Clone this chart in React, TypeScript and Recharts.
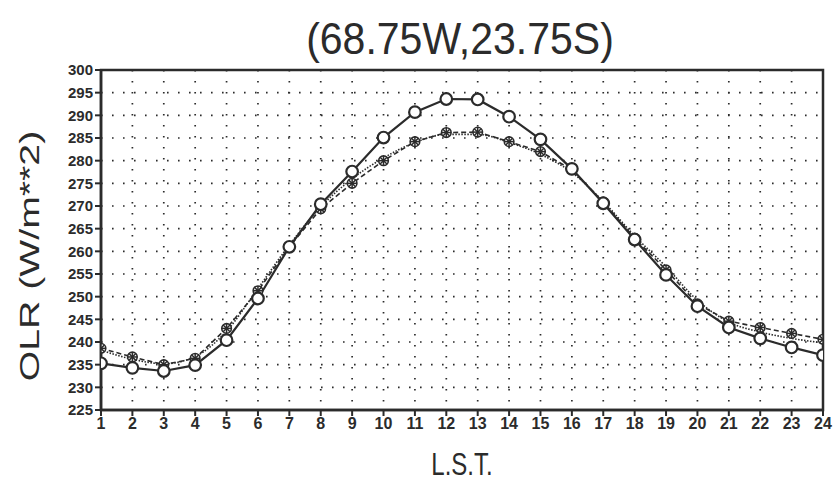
import React from 'react';
import {
  ComposedChart,
  Line,
  XAxis,
  YAxis,
  CartesianGrid,
  ReferenceArea,
} from 'recharts';

// local solar time (hours)
const hours = [1, 2, 3, 4, 5, 6, 7, 8, 9, 10, 11, 12, 13, 14, 15, 16, 17, 18, 19, 20, 21, 22, 23, 24];

// observed OLR (W/m**2)
const observed = [
  235.3, 234.3, 233.6, 234.9, 240.4, 249.6, 261.0, 270.4, 277.6, 285.1, 290.7, 293.6,
  293.5, 289.7, 284.7, 278.2, 270.6, 262.6, 254.8, 247.9, 243.2, 240.8, 238.8, 237.1,
];

// model OLR (W/m**2)
const model = [
  238.6, 236.7, 235.0, 236.4, 243.0, 251.3, 261.0, 269.4, 275.0, 280.0, 284.2, 286.2,
  286.3, 284.2, 282.0, 278.0, 270.9, 262.9, 255.9, 248.4, 244.6, 243.2, 241.9, 240.6,
];

// harmonic fit (W/m**2)
const fitted = [
  238.2, 236.2, 235.2, 236.8, 242.4, 251.8, 261.4, 269.8, 276.0, 280.6, 284.0, 285.8,
  285.8, 284.0, 281.4, 277.4, 271.0, 263.4, 256.6, 249.2, 244.4, 242.2, 240.8, 239.8,
];

const yTicks = [225, 230, 235, 240, 245, 250, 255, 260, 265, 270, 275, 280, 285, 290, 295, 300];

const data = hours.map((h, i) => ({
  hour: h,
  observed: observed[i],
  model: model[i],
  fitted: fitted[i],
}));

const INK = '#2b2b2b';
const FONT = '"Liberation Sans", Arial, sans-serif';

const OpenCircle = (props: any) => {
  const { cx, cy } = props;
  if (cx == null || cy == null) return null;
  return <circle cx={cx} cy={cy} r={5.8} fill="#fff" stroke={INK} strokeWidth={2.2} />;
};

// circle with an asterisk through it
const StarCircle = (props: any) => {
  const { cx, cy } = props;
  if (cx == null || cy == null) return null;
  const r = 4.8;
  const arms = [0, 45, 90, 135].map((a) => {
    const rad = (a * Math.PI) / 180;
    const dx = Math.cos(rad) * r;
    const dy = Math.sin(rad) * r;
    return <line key={a} x1={cx - dx} y1={cy - dy} x2={cx + dx} y2={cy + dy} stroke={INK} strokeWidth={1.5} />;
  });
  return (
    <g>
      <circle cx={cx} cy={cy} r={r} fill="#fff" stroke={INK} strokeWidth={1.6} />
      {arms}
    </g>
  );
};

const App: React.FC = () => {
  return (
    <div style={{ position: 'absolute', left: 0, top: 0, width: 837, height: 485, background: '#fff' }}>
      <div
        style={{
          position: 'absolute',
          left: 460,
          top: 39,
          transform: 'translate(-50%, -50%) scaleY(1.1)',
          whiteSpace: 'nowrap',
          fontFamily: FONT,
          fontSize: 41,
          color: INK,
        }}
      >
        (68.75W,23.75S)
      </div>
      <div
        style={{
          position: 'absolute',
          left: 30,
          top: 256,
          transform: 'translate(-50%, -50%) rotate(-90deg) scaleX(1.4)',
          whiteSpace: 'nowrap',
          fontFamily: FONT,
          fontSize: 28,
          color: INK,
        }}
      >
        OLR (W/m**2)
      </div>
      <div
        style={{
          position: 'absolute',
          left: 462,
          top: 465,
          transform: 'translate(-50%, -50%) scaleY(1.3)',
          whiteSpace: 'nowrap',
          fontFamily: FONT,
          fontSize: 24,
          color: INK,
        }}
      >
        L.S.T.
      </div>
      <ComposedChart
        width={837}
        height={485}
        data={data}
        margin={{ top: 70, right: 14, bottom: 0, left: 0 }}
      >
        <CartesianGrid stroke={INK} strokeWidth={1.7} strokeDasharray="1.6 9.4" />
        <XAxis
          dataKey="hour"
          type="number"
          domain={[1, 24]}
          ticks={hours}
          interval={0}
          allowDataOverflow
          height={75}
          axisLine={{ stroke: INK, strokeWidth: 2.5 }}
          tickLine={{ stroke: INK, strokeWidth: 2 }}
          tickSize={6}
          tick={{ fill: INK, fontSize: 16, fontWeight: 'bold', fontFamily: FONT }}
        />
        <YAxis
          type="number"
          domain={[225, 300]}
          ticks={yTicks}
          interval={0}
          allowDataOverflow
          width={101}
          axisLine={{ stroke: INK, strokeWidth: 2.5 }}
          tickLine={{ stroke: INK, strokeWidth: 2 }}
          tickSize={6}
          tick={{ fill: INK, fontSize: 15, fontWeight: 'bold', fontFamily: FONT }}
        />
        <ReferenceArea
          x1={1}
          x2={24}
          y1={225}
          y2={300}
          fill="none"
          fillOpacity={0}
          stroke={INK}
          strokeWidth={2.5}
          ifOverflow="visible"
        />
        <Line
          dataKey="fitted"
          type="monotone"
          stroke={INK}
          strokeWidth={1.6}
          strokeDasharray="1.5 1.5"
          dot={false}
          isAnimationActive={false}
        />
        <Line
          dataKey="model"
          type="linear"
          stroke={INK}
          strokeWidth={1.6}
          strokeDasharray="5 3"
          dot={<StarCircle />}
          isAnimationActive={false}
        />
        <Line
          dataKey="observed"
          type="linear"
          stroke={INK}
          strokeWidth={2.2}
          dot={<OpenCircle />}
          isAnimationActive={false}
        />
      </ComposedChart>
    </div>
  );
};

export default App;
